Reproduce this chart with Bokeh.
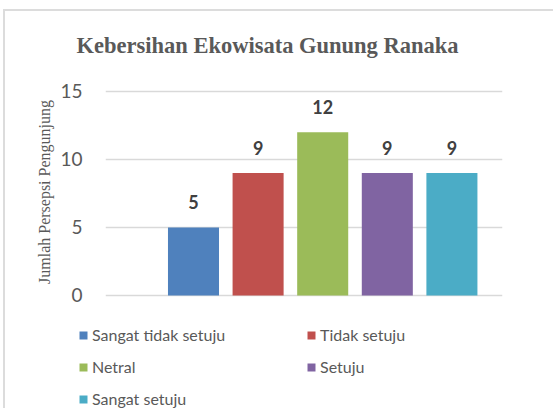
from bokeh.plotting import figure
from bokeh.layouts import column
from bokeh.models import Range1d, FixedTicker, Legend, LegendItem, Title, ColumnDataSource
from bokeh.embed import file_html
from bokeh.resources import INLINE
from bokeh.core.properties import value

categories = ["Sangat tidak setuju", "Tidak setuju", "Netral", "Setuju", "Sangat setuju"]
counts = [5, 9, 12, 9, 9]
colors = ["#4F81BD", "#C0504D", "#9BBB59", "#8064A2", "#4BACC6"]
y_ticks = [0, 5, 10, 15]

src = ColumnDataSource(dict(
    x=list(range(len(categories))),
    top=counts,
    cat=categories,
    color=colors,
    label=[str(c) for c in counts],
))

p = figure(width=553, height=320, output_backend="svg", toolbar_location=None,
           x_range=Range1d(-1.362, 4.783), y_range=Range1d(-0.3, 15.5),
           min_border_left=105, min_border_right=51, min_border_top=84, min_border_bottom=21)
p.frame_align = False
p.outline_line_color = None
p.background_fill_color = None
p.border_fill_color = None

p.vbar(x="x", top="top", width=0.79, color="color", line_color=None, source=src)
p.text(x="x", y="top", text="label", source=src, y_offset=-25,
       text_align="center", text_baseline="middle",
       text_font=value("Lato"), text_font_style="bold", text_font_size="18px",
       text_color="#404040")

p.xaxis.visible = False
p.xgrid.visible = False
p.ygrid.grid_line_color = "#D9D9D9"
p.ygrid.grid_line_width = 1.5

ya = p.yaxis[0]
ya.ticker = FixedTicker(ticks=y_ticks)
ya.axis_line_color = None
ya.major_tick_line_color = None
ya.minor_tick_line_color = None
ya.major_label_standoff = 17
ya.major_label_text_font = "Lato"
ya.major_label_text_font_size = "19px"
ya.major_label_text_color = "#595959"
ya.axis_label = "Jumlah Persepsi Pengunjung"
ya.axis_label_text_font = "Liberation Serif"
ya.axis_label_text_font_style = "normal"
ya.axis_label_text_font_size = "16px"
ya.axis_label_text_color = "#595959"
ya.axis_label_standoff = 4

p.title = Title(text="Kebersihan Ekowisata Gunung Ranaka", align="left", offset=-29,
                standoff=53,
                text_font="Liberation Serif", text_font_style="bold",
                text_font_size="22.5px", text_color="#595959")

# legend panel (a second figure below the chart)
q = figure(width=553, height=88, output_backend="svg", toolbar_location=None,
           x_range=Range1d(0, 1), y_range=Range1d(100, 101),
           min_border_left=0, min_border_right=0, min_border_top=0, min_border_bottom=0)
q.frame_align = False
q.axis.visible = False
q.grid.visible = False
q.outline_line_color = None
q.background_fill_color = None
q.border_fill_color = None
rl = q.vbar(x="x", top="top", width=0.79, color="color", line_color=None, source=src)

items = [LegendItem(label=c, renderers=[rl], index=i) for i, c in enumerate(categories)]
lg = Legend(items=items, orientation="horizontal", ncols=2, location=(78, 0),
            glyph_width=10, glyph_height=10, label_standoff=4, spacing=13,
            label_width=201, label_height=16, padding=0, margin=0,
            border_line_color=None, background_fill_alpha=0,
            label_text_font="Lato", label_text_font_size="16px",
            label_text_color="#595959")
q.add_layout(lg, "center")

layout = column(p, q, spacing=0,
                styles={"box-shadow": "inset 3px 9px 0 0 #FFFFFF, inset 5px 11px 0 0 #DCDCDC"})
open("out.html", "w").write(file_html(layout, INLINE))
